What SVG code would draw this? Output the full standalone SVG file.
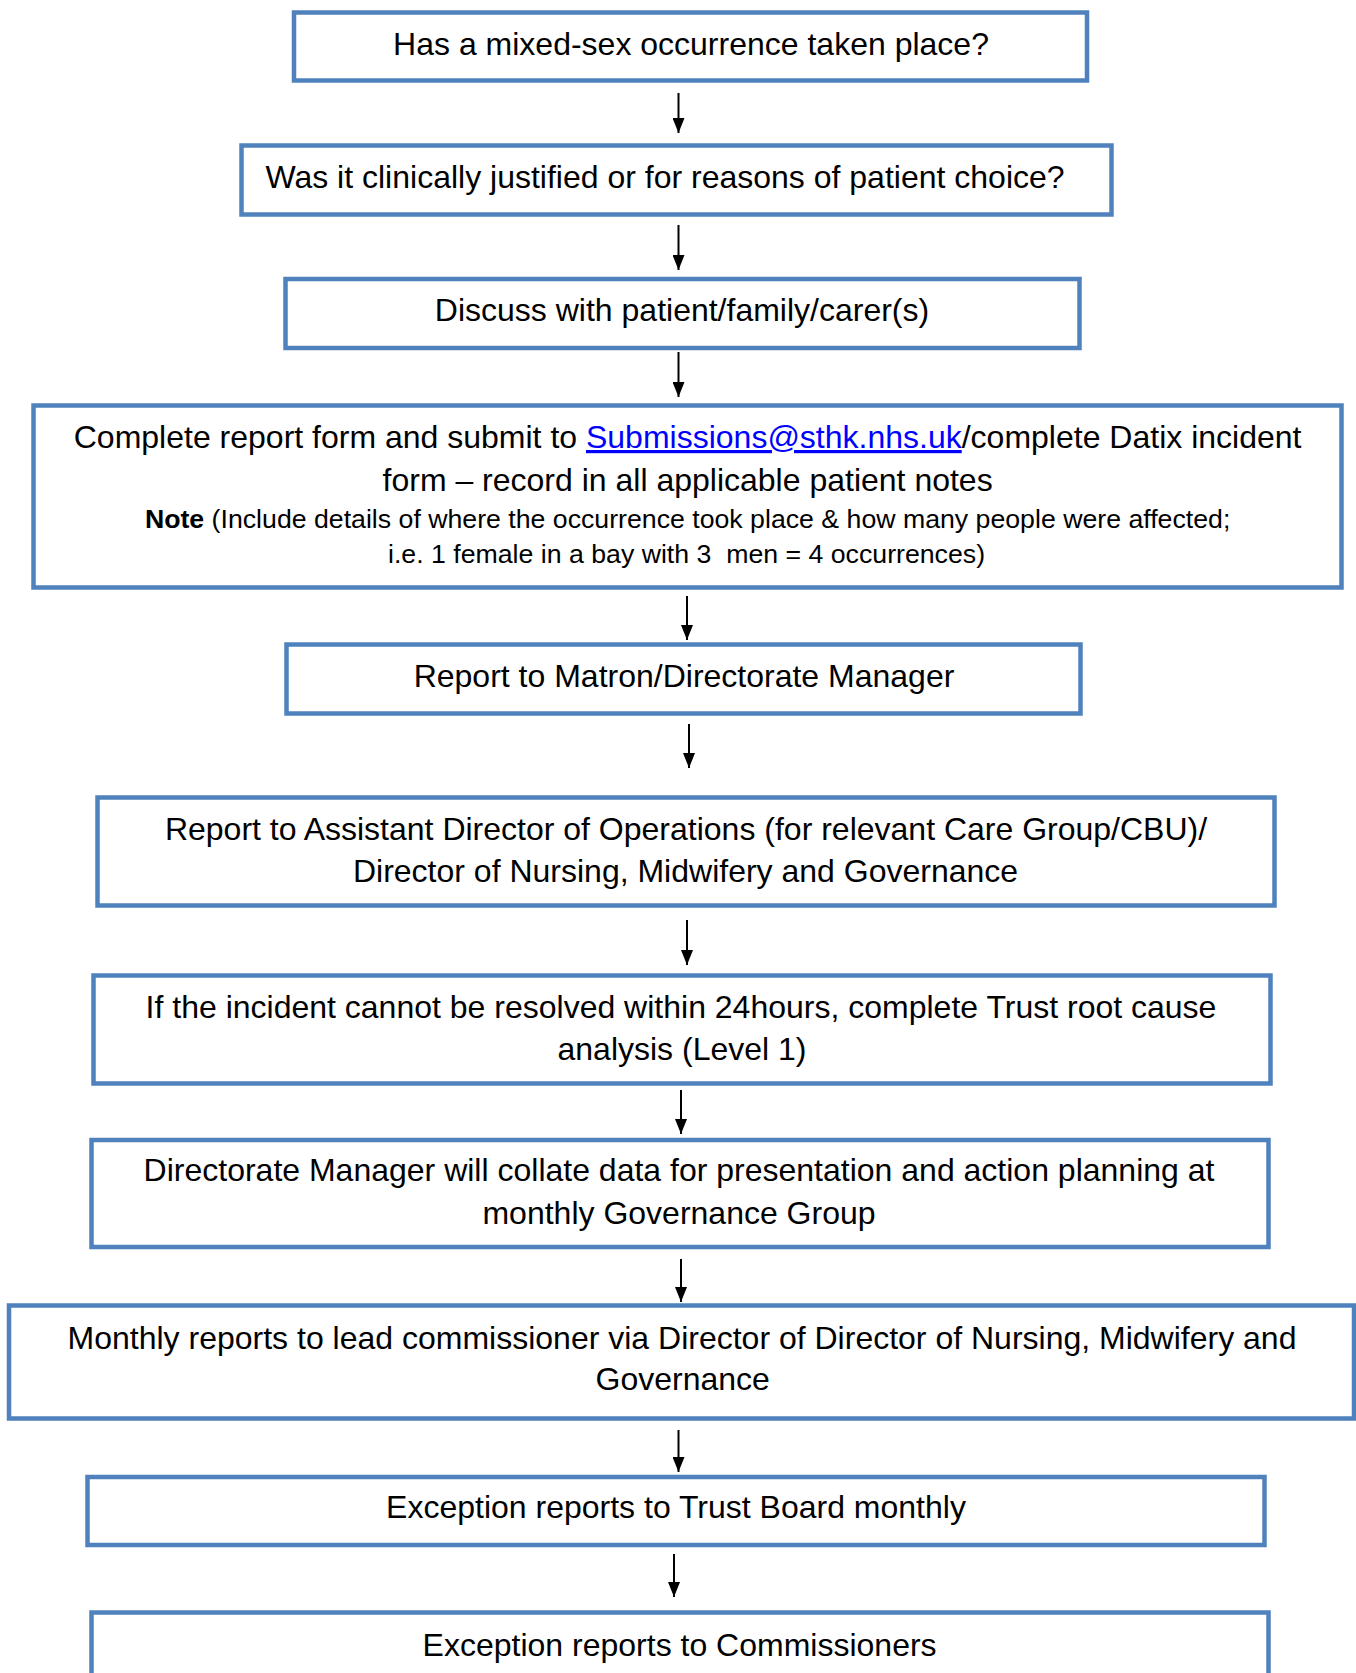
<svg xmlns="http://www.w3.org/2000/svg" width="1356" height="1673" viewBox="0 0 1356 1673">
<style>
.box{fill:#fff;stroke:#4F81BD;stroke-width:4.5}
.t{font-family:"Liberation Sans",Arial,sans-serif;font-size:32px;fill:#000;text-anchor:middle}
.s{font-size:26.7px}
.link{fill:#0000FF;text-decoration:underline}
.c{stroke:#000;stroke-width:2;fill:none;marker-end:url(#ah)}
</style>
<defs>
<marker id="ah" markerUnits="userSpaceOnUse" markerWidth="16" markerHeight="12" refX="15" refY="6" orient="auto" viewBox="0 0 16 12">
<path d="M0,0 L15,6 L0,12 Z" fill="#000"/>
</marker>
</defs>
<rect width="1356" height="1673" fill="#fff"/>
<g id="connectors">
<line class="c" x1="678.5" y1="93" x2="678.5" y2="133"/>
<line class="c" x1="678.5" y1="225" x2="678.5" y2="270"/>
<line class="c" x1="678.5" y1="352" x2="678.5" y2="397"/>
<line class="c" x1="687" y1="596" x2="687" y2="640"/>
<line class="c" x1="689" y1="724" x2="689" y2="768"/>
<line class="c" x1="687" y1="920" x2="687" y2="965"/>
<line class="c" x1="681" y1="1090" x2="681" y2="1134"/>
<line class="c" x1="681" y1="1259" x2="681" y2="1302"/>
<line class="c" x1="678.5" y1="1430" x2="678.5" y2="1472"/>
<line class="c" x1="674" y1="1554" x2="674" y2="1597"/>
</g>
<g id="n1"><rect class="box" x="294" y="12.5" width="793" height="68"/><text class="t" x="691" y="54.5">Has a mixed-sex occurrence taken place?</text></g>
<g id="n2"><rect class="box" x="241.5" y="145.5" width="870" height="69"/><text class="t" x="665" y="187.5">Was it clinically justified or for reasons of patient choice?</text></g>
<g id="n3"><rect class="box" x="285.5" y="279" width="794" height="69"/><text class="t" x="682" y="321">Discuss with patient/family/carer(s)</text></g>
<g id="n4"><rect class="box" x="33.5" y="405.5" width="1308" height="182"/>
<text class="t" x="687.6" y="448">Complete report form and submit to <tspan class="link">Submissions@sthk.nhs.uk</tspan>/complete Datix incident</text>
<text class="t" x="687.6" y="490.5">form – record in all applicable patient notes</text>
<text class="t s" x="687.6" y="527.5"><tspan font-weight="bold">Note</tspan> (Include details of where the occurrence took place &amp; how many people were affected;</text>
<text class="t s" x="686.5" y="562.5" xml:space="preserve">i.e. 1 female in a bay with 3  men = 4 occurrences)</text></g>
<g id="n5"><rect class="box" x="286.5" y="644.5" width="794" height="69"/><text class="t" x="684" y="686.5">Report to Matron/Directorate Manager</text></g>
<g id="n6"><rect class="box" x="97.5" y="797.5" width="1177" height="108"/><text class="t" x="686" y="839.5">Report to Assistant Director of Operations (for relevant Care Group/CBU)/</text><text class="t" x="685.5" y="882">Director of Nursing, Midwifery and Governance</text></g>
<g id="n7"><rect class="box" x="93.5" y="975.5" width="1177" height="108"/><text class="t" x="681" y="1017.5">If the incident cannot be resolved within 24hours, complete Trust root cause</text><text class="t" x="682" y="1059.5">analysis (Level 1)</text></g>
<g id="n8"><rect class="box" x="91.5" y="1140" width="1177" height="107"/><text class="t" x="679" y="1180.5">Directorate Manager will collate data for presentation and action planning at</text><text class="t" x="679" y="1223.5">monthly Governance Group</text></g>
<g id="n9"><rect class="box" x="9" y="1305.5" width="1345" height="113"/><text class="t" x="682" y="1348.5">Monthly reports to lead commissioner via Director of Director of Nursing, Midwifery and</text><text class="t" x="682.7" y="1390">Governance</text></g>
<g id="n10"><rect class="box" x="87.5" y="1477" width="1177" height="68"/><text class="t" x="676" y="1518">Exception reports to Trust Board monthly</text></g>
<g id="n11"><rect class="box" x="91.5" y="1612.5" width="1177" height="80"/><text class="t" x="679.6" y="1655.5">Exception reports to Commissioners</text></g>
</svg>
